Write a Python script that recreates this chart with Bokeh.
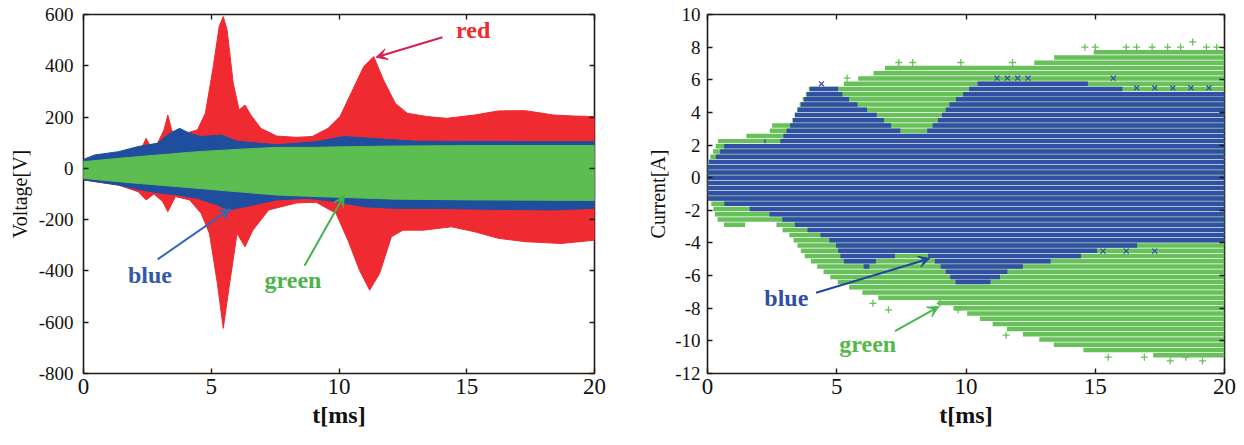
import numpy as np
from bokeh.plotting import figure
from bokeh.layouts import row
from bokeh.models import (Arrow, VeeHead, Label, LinearAxis, FixedTicker, Range1d,
                          CustomJSTickFormatter)
from bokeh.embed import file_html
from bokeh.resources import INLINE

# ---------------- Voltage envelopes (t in ms, V in volts) ----------------
red_hi_t = [0, 1.36, 2.3, 2.45, 2.6, 2.9, 3.15, 3.3, 3.45, 3.6, 4.0, 4.46, 4.77, 5.08, 5.31, 5.47,
            5.62, 5.86, 6.09, 6.32, 6.55, 6.94, 7.56, 8.33, 8.95, 9.57, 10.04, 10.5, 10.97, 11.36,
            11.74, 12.2, 12.67, 13.45, 14.22, 15.3, 16.24, 17.3, 18.4, 19.18, 20]
red_hi_v = [33, 59, 85, 117, 90, 98, 150, 208, 150, 124, 137, 150, 215, 397, 553, 592,
            540, 332, 228, 247, 208, 156, 126, 121, 124, 156, 202, 299, 397, 436,
            345, 254, 215, 202, 195, 208, 224, 225, 208, 204, 202]
red_lo_t = [0, 1.36, 2.14, 2.45, 2.76, 3.1, 3.3, 3.6, 4.15, 4.6, 4.93, 5.24, 5.47, 5.7, 6.01,
            6.32, 6.63, 7.25, 8.33, 9.1, 9.88, 10.35, 10.8, 11.2, 11.59, 12.05, 12.5, 13.3,
            14.4, 15.3, 16.24, 17.3, 18.7, 20]
red_lo_v = [-45, -65, -91, -123, -100, -130, -169, -110, -123, -175, -254, -449, -624, -462, -254,
            -306, -241, -162, -135, -132, -175, -280, -397, -475, -410, -267, -241, -241,
            -228, -247, -273, -286, -293, -280]

blue_hi_t = [0, 0.43, 1.36, 2.14, 2.9, 3.38, 3.76, 4.15, 4.6, 5.39, 6.01, 7.56, 9.1, 10.19,
             11.43, 13, 15.3, 17.6, 20]
blue_hi_v = [35, 52, 65, 85, 98, 137, 156, 137, 124, 130, 106, 92, 104, 124, 116, 106, 105, 104, 104]
blue_lo_t = [0, 0.74, 1.36, 2.14, 2.9, 3.69, 4.46, 5.24, 5.7, 6.32, 7.56, 8.8, 9.88, 11.0, 12.2,
             13.76, 16.08, 18.4, 20]
blue_lo_v = [-45, -56, -65, -82, -95, -104, -117, -143, -162, -150, -123, -117, -130, -150, -156,
             -156, -160, -162, -156]

green_t = [0, 1.36, 2.9, 4.46, 6.01, 7.56, 9.1, 10.66, 12.2, 15.3, 20]
green_hi_v = [26, 39, 52, 65, 74, 82, 82, 85, 87, 89, 89]
green_lo_v = [-39, -52, -65, -78, -91, -104, -110, -115, -120, -123, -125]

# ---------------- Current envelopes (t in ms, I in amperes) ----------------
ig_hi_t = [0, 0.18, 0.34, 0.5, 1.5, 1.6, 2.4, 2.5, 3.2, 3.5, 3.95, 4.95, 5.5, 6.6, 6.96, 8.6,
           10.5, 12.0, 12.8, 13.5, 14.3, 15.1, 16.6, 20]
ig_hi_v = [1.0, 1.5, 2.0, 2.55, 2.55, 2.85, 2.85, 3.2, 3.25, 4.3, 5.55, 5.56, 5.9, 6.5, 6.8, 6.8,
           6.75, 6.8, 7.1, 7.4, 7.6, 7.7, 7.8, 7.85]
ig_lo_t = [0, 0.18, 0.34, 0.65, 1.26, 2.0, 2.5, 2.8, 3.1, 3.41, 3.72, 4.18, 4.64, 5.1, 5.87,
           6.64, 7.4, 8.17, 8.94, 9.7, 10.48, 11.24, 12.0, 12.8, 13.5, 14.3, 15.1, 16.6, 18.2, 20]
ig_lo_v = [-1.2, -1.7, -2.5, -2.9, -2.9, -2.8, -2.6, -3.1, -3.4, -4.0, -4.75, -5.36, -5.96, -6.47,
           -6.98, -7.38, -7.58, -7.48, -7.69, -8.1, -8.6, -9.1, -9.5, -9.9, -10.3, -10.5, -10.7,
           -10.8, -11.0, -11.0]

ib_hi_t = [0, 0.34, 0.65, 1.26, 2.2, 2.5, 2.8, 3.0, 3.26, 3.41, 3.72, 4.0, 4.95, 5.25, 5.87,
           6.48, 7.1, 7.56, 8.0, 8.48, 8.94, 9.4, 9.86, 10.3, 10.8, 12.0, 13.5, 14.6, 15.1, 16.6, 20]
ib_hi_v = [0.9, 1.3, 1.94, 2.14, 2.24, 1.9, 2.2, 2.75, 3.35, 3.96, 4.77, 5.56, 5.54, 4.97, 4.37,
           3.86, 3.15, 2.75, 2.65, 2.85, 3.56, 4.57, 5.08, 5.7, 5.9, 5.9, 5.85, 5.8, 5.5, 5.4, 5.35]
ib_lo_t = [0, 0.34, 0.65, 1.26, 2.18, 2.8, 3.41, 3.87, 4.49, 4.95, 5.18, 5.4, 6.2, 6.6, 7.4,
           8.2, 8.6, 9.1, 9.55, 10.0, 10.6, 11.1, 11.55, 12.3, 13.5, 14.3, 15.1, 16.0, 20]
ib_lo_v = [-1.3, -1.4, -1.6, -1.8, -2.1, -2.5, -2.9, -3.2, -3.6, -4.1, -4.95, -5.36, -5.46, -4.95,
           -4.75, -4.55, -4.85, -5.56, -6.37, -6.7, -6.6, -6.27, -5.76, -5.36, -5.05, -4.85,
           -4.44, -4.18, -4.04]

# isolated samples lying outside the dense bands
ig_out_t = [5.4, 6.4, 7.0, 7.4, 7.94, 9.0, 9.7, 9.8, 11.8, 11.55, 14.6, 15.0, 16.2, 16.6, 17.2,
            17.8, 18.3, 18.77, 19.3, 19.7, 15.5, 16.9, 17.9, 18.5, 19.15]
ig_out_i = [6.1, -7.7, -8.1, 7.06, 7.06, -7.7, -8.1, 7.06, 7.06, -9.65, 8.0, 8.0, 8.0, 8.0, 8.0,
            8.0, 8.0, 8.32, 8.0, 8.0, -11.0, -11.0, -11.23, -11.0, -11.23]
ib_out_t = [4.41, 11.2, 11.6, 12.0, 12.4, 15.7, 16.6, 17.3, 18.0, 18.7, 19.4, 15.3, 16.2, 17.3]
ib_out_i = [5.75, 6.1, 6.1, 6.1, 6.1, 6.1, 5.5, 5.5, 5.5, 5.5, 5.5, -4.5, -4.5, -4.5]

# current is sampled in discrete steps (A)
current_step = 0.32

x_ticks = [0, 5, 10, 15, 20]
v_ticks = [-800, -600, -400, -200, 0, 200, 400, 600]
i_ticks = [-12, -10, -8, -6, -4, -2, 0, 2, 4, 6, 8, 10]

RED = "#ef2a30"
BLUE = "#1f4e9f"
GREEN = "#5cbd50"
BLUE2 = "#3150a5"
GREEN2 = "#67c059"
FRAME = "#231815"
SERIF = "Liberation Serif"

plain = CustomJSTickFormatter(code="return String(tick);")


def style(p, xt, yt, xsize, ysize):
    p.xgrid.visible = False
    p.ygrid.visible = False
    p.outline_line_color = FRAME
    p.outline_line_width = 1.6
    p.xaxis.ticker = FixedTicker(ticks=xt)
    p.yaxis.ticker = FixedTicker(ticks=yt)
    p.xaxis.formatter = plain
    p.yaxis.formatter = plain
    for ax in p.xaxis + p.yaxis:
        ax.axis_line_color = None
        ax.major_tick_in = 5
        ax.major_tick_out = 0
        ax.major_tick_line_color = FRAME
        ax.major_tick_line_width = 1.4
        ax.minor_tick_line_color = None
        ax.major_label_text_font = SERIF
        ax.major_label_text_color = "#111111"
        ax.axis_label_text_font = SERIF
        ax.axis_label_text_color = "#111111"
    p.xaxis.major_label_text_font_size = xsize
    p.yaxis.major_label_text_font_size = ysize
    p.xaxis.axis_label = "t[ms]"
    p.xaxis.axis_label_text_font_style = "bold"
    p.xaxis.axis_label_text_font_size = "24px"
    p.yaxis.axis_label_text_font_style = "normal"
    p.yaxis.axis_label_text_font_size = "20px"
    # mirrored tick marks on the top and right edges, without labels
    for loc, tk in (("above", xt), ("right", yt)):
        ax = LinearAxis(ticker=FixedTicker(ticks=tk),
                        formatter=CustomJSTickFormatter(code="return '';"))
        ax.axis_line_color = None
        ax.major_tick_in = 5
        ax.major_tick_out = 0
        ax.major_tick_line_color = FRAME
        ax.major_tick_line_width = 1.4
        ax.minor_tick_line_color = None
        ax.major_label_standoff = 0
        p.add_layout(ax, loc)


def arrow(p, x0, y0, x1, y1, color):
    p.add_layout(Arrow(end=VeeHead(size=11, fill_color=color, line_color=color),
                       x_start=x0, y_start=y0, x_end=x1, y_end=y1,
                       line_color=color, line_width=2))


def label(p, x, y, text, color, size):
    p.add_layout(Label(x=x, y=y, text=text, text_color=color, text_font=SERIF,
                       text_font_style="bold", text_font_size=size,
                       text_align="center", text_baseline="middle"))


# ---------------- Voltage panel ----------------
p1 = figure(width=620, height=445, output_backend="svg", toolbar_location=None,
            x_range=Range1d(0, 20), y_range=Range1d(-800, 600),
            min_border_left=83, min_border_right=26, min_border_top=14, min_border_bottom=72)
style(p1, x_ticks, v_ticks, "23px", "19px")
p1.yaxis[0].axis_label = "Voltage[V]"
p1.xaxis[0].major_label_standoff = 9
p1.yaxis[0].major_label_standoff = 10
p1.xaxis[0].axis_label_standoff = 10
p1.yaxis[0].axis_label_standoff = 5

for ht, hv, lt, lv, c in ((red_hi_t, red_hi_v, red_lo_t, red_lo_v, RED),
                          (blue_hi_t, blue_hi_v, blue_lo_t, blue_lo_v, BLUE),
                          (green_t, green_hi_v, green_t, green_lo_v, GREEN)):
    p1.patch(x=list(ht) + list(lt)[::-1], y=list(hv) + list(lv)[::-1],
             fill_color=c, line_color=c, line_width=1)

label(p1, 15.25, 540, "red", RED, "24px")
arrow(p1, 14.05, 511, 11.45, 433, "#d8204f")
label(p1, 2.6, -416, "blue", "#3358a8", "24px")
arrow(p1, 2.9, -355, 5.75, -158, "#3468b8")
label(p1, 8.2, -436, "green", "#4db34a", "24px")
arrow(p1, 8.65, -380, 10.2, -106, "#45b348")

# ---------------- Current panel ----------------
p2 = figure(width=624, height=445, output_backend="svg", toolbar_location=None,
            x_range=Range1d(0, 20), y_range=Range1d(-12, 10),
            min_border_left=87, min_border_right=20, min_border_top=14, min_border_bottom=69)
style(p2, x_ticks, i_ticks, "23px", "19px")
p2.yaxis[0].axis_label = "Current[A]"
p2.xaxis[0].major_label_standoff = 11
p2.yaxis[0].major_label_standoff = 7
p2.xaxis[0].axis_label_standoff = 12
p2.yaxis[0].axis_label_standoff = 3

levels = np.arange(-36, 27) * current_step
tgrid = np.linspace(0, 20, 4001)


def rows(ht, hv, lt, lv):
    up = np.interp(tgrid, ht, hv)
    lo = np.interp(tgrid, lt, lv)
    ys, ls, rs = [], [], []
    for L in levels:
        m = ((lo <= L) & (up >= L)).astype(int)
        d = np.diff(np.concatenate([[0], m, [0]]))
        starts = np.where(d == 1)[0]
        ends = np.where(d == -1)[0] - 1
        for s, e in zip(starts, ends):
            ys.append(L)
            ls.append(tgrid[s])
            rs.append(tgrid[e] + 0.05)
    return ys, ls, rs


for ht, hv, lt, lv, ot, oi, c, mk in ((ig_hi_t, ig_hi_v, ig_lo_t, ig_lo_v, ig_out_t, ig_out_i, GREEN2, "cross"),
                                      (ib_hi_t, ib_hi_v, ib_lo_t, ib_lo_v, ib_out_t, ib_out_i, BLUE2, "x")):
    ys, ls, rs = rows(ht, hv, lt, lv)
    p2.hbar(y=ys, left=ls, right=rs, height=current_step * 0.86,
            fill_color=c, line_color=None)
    p2.scatter(x=ot, y=oi, marker=mk, size=7, line_color=c, line_width=1.3)

label(p2, 3.05, -7.35, "blue", BLUE2, "24px")
arrow(p2, 4.2, -7.05, 8.6, -4.95, "#2446a0")
label(p2, 6.2, -10.2, "green", "#55b84a", "24px")
arrow(p2, 7.25, -9.4, 8.95, -7.9, "#48b84a")

layout = row(p1, p2)
open("out.html", "w").write(file_html(layout, INLINE))
